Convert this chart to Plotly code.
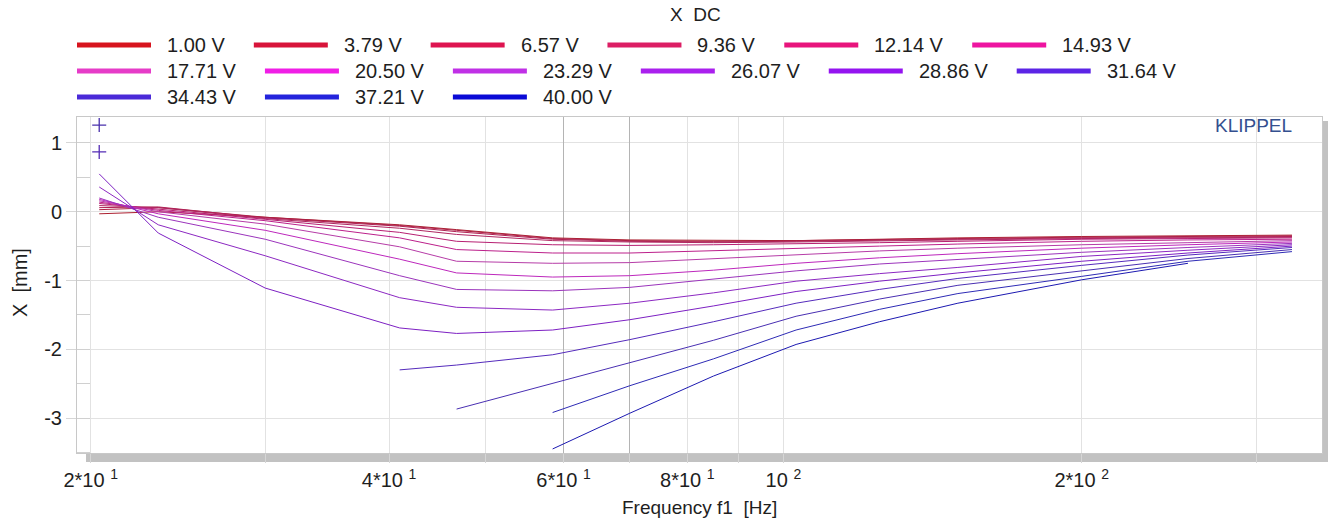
import plotly.graph_objects as go

# ---------------------------------------------------------------- data
freq_hz = [20.4, 23.4, 30.0, 41.0, 46.8, 58.5, 70, 85, 103, 125, 150, 200, 256, 326]

voltage_labels = ["1.00 V", "3.79 V", "6.57 V", "9.36 V", "12.14 V", "14.93 V",
                  "17.71 V", "20.50 V", "23.29 V", "26.07 V", "28.86 V", "31.64 V",
                  "34.43 V", "37.21 V", "40.00 V"]

x_dc_1_00 = [-0.03, 0.00, -0.08, -0.19, -0.26, -0.38, -0.41, -0.42, -0.42, -0.40, -0.38, -0.36, -0.35, -0.34]
x_dc_3_79 = [0.03, 0.06, -0.08, -0.20, -0.27, -0.39, -0.42, -0.43, -0.42, -0.41, -0.39, -0.37, -0.36, -0.35]
x_dc_6_57 = [0.06, 0.07, -0.09, -0.21, -0.29, -0.40, -0.43, -0.44, -0.43, -0.42, -0.40, -0.38, -0.37, -0.36]
x_dc_9_36 = [0.09, 0.06, -0.10, -0.24, -0.33, -0.42, -0.44, -0.45, -0.44, -0.43, -0.41, -0.39, -0.38, -0.37]
x_dc_12_14 = [0.12, 0.04, -0.11, -0.30, -0.43, -0.48, -0.49, -0.48, -0.47, -0.45, -0.43, -0.40, -0.39, -0.38]
x_dc_14_93 = [0.14, 0.02, -0.13, -0.38, -0.55, -0.60, -0.60, -0.57, -0.53, -0.50, -0.47, -0.43, -0.41, -0.40]
x_dc_17_71 = [0.16, 0.00, -0.18, -0.51, -0.72, -0.75, -0.74, -0.68, -0.62, -0.57, -0.53, -0.48, -0.45, -0.42]
x_dc_20_50 = [0.18, -0.03, -0.27, -0.69, -0.89, -0.95, -0.93, -0.85, -0.75, -0.67, -0.61, -0.53, -0.48, -0.44]
x_dc_23_29 = [0.20, -0.08, -0.40, -0.93, -1.13, -1.15, -1.10, -0.98, -0.86, -0.76, -0.69, -0.59, -0.52, -0.46]
x_dc_26_07 = [0.36, -0.19, -0.64, -1.25, -1.39, -1.43, -1.33, -1.18, -1.01, -0.90, -0.81, -0.65, -0.56, -0.48]
x_dc_28_86 = [0.55, -0.31, -1.11, -1.69, -1.77, -1.72, -1.57, -1.37, -1.16, -1.01, -0.89, -0.72, -0.60, -0.50]
x_dc_31_64 = [0.87, None, None, -2.30, -2.23, -2.08, -1.86, -1.60, -1.33, -1.13, -0.97, -0.78, -0.63, -0.52]
x_dc_34_43 = [1.26, None, None, None, -2.87, -2.50, -2.20, -1.87, -1.52, -1.27, -1.07, -0.86, -0.68, -0.55]
x_dc_37_21 = [None, None, None, None, None, -2.92, -2.53, -2.14, -1.72, -1.42, -1.19, -0.94, -0.72, -0.58]
x_dc_40_00 = [None, None, None, None, None, -3.45, -2.93, -2.39, -1.93, -1.60, -1.33, -0.99, -0.75, None]

x_label_vals = [20, 40, 60, 80, 100, 200]
x_label_text = ["2*10 <sup>1</sup>", "4*10 <sup>1</sup>", "6*10 <sup>1</sup>",
                "8*10 <sup>1</sup>", "10 <sup>2</sup>", "2*10 <sup>2</sup>"]
x_minor_vals = [30, 50, 70, 90, 300]
y_tick_vals = [1, 0, -1, -2, -3]
y_tick_text = ["1", "0", "-1", "-2", "-3"]

series = [x_dc_1_00, x_dc_3_79, x_dc_6_57, x_dc_9_36, x_dc_12_14, x_dc_14_93,
          x_dc_17_71, x_dc_20_50, x_dc_23_29, x_dc_26_07, x_dc_28_86, x_dc_31_64,
          x_dc_34_43, x_dc_37_21, x_dc_40_00]

# ---------------------------------------------------------------- style
colors = ["#d7141e", "#d8143a", "#de1450", "#dc1e64", "#e8147c", "#ee14a0",
          "#e63cc8", "#f01ee6", "#c030e6", "#aa20ee", "#9414f0", "#5c24e6",
          "#4a2ad8", "#2424dc", "#0a0ad6"]

W, H = 1328, 521
ML, MR, MT, MB = 77, 6, 117, 68
PW, PH = W - ML - MR, H - MT - MB
FONT = "Liberation Sans, Arial, sans-serif"
TXT = "#1e1e1e"
GRID = "#e2e2e2"


def px(xp):
    return (xp - ML) / PW


def py(yp):
    return (H - MB - yp) / PH


def muted(hex_col, amount=0.3, toward=(70, 60, 90)):
    """Thin curve strokes are drawn a little darker than the legend swatches."""
    r, g, b = (int(hex_col[i:i + 2], 16) for i in (1, 3, 5))
    r, g, b = (round(c * (1 - amount) + t * amount) for c, t in zip((r, g, b), toward))
    return f"rgb({r},{g},{b})"


fig = go.Figure()

for name, col, ys in zip(voltage_labels, colors, series):
    fig.add_trace(go.Scatter(x=freq_hz, y=ys, mode="lines", name=name,
                             line=dict(color=muted(col), width=1), connectgaps=False,
                             showlegend=False))
    # isolated samples are shown as crosses
    lone_x, lone_y = [], []
    for i, v in enumerate(ys):
        if v is None:
            continue
        left = ys[i - 1] if i > 0 else None
        right = ys[i + 1] if i < len(ys) - 1 else None
        if left is None and right is None:
            lone_x.append(freq_hz[i])
            lone_y.append(v)
    if lone_x:
        fig.add_trace(go.Scatter(x=lone_x, y=lone_y, mode="markers", showlegend=False,
                                 marker=dict(symbol="cross-thin", size=10,
                                             line=dict(color=muted(col, 0.35), width=1.3))))

# emphasised grid lines at 60 and 70 Hz
fig.add_trace(go.Scatter(x=[60, 70], y=[None, None], xaxis="x2", showlegend=False))

shapes = []
annotations = []

# legend, six entries per row
row_y = [45, 71, 97]
swatch_len, text_gap, entry_gap = 74, 14, 31
char_w = {"0": .556, "1": .556, "2": .556, "3": .556, "4": .556, "5": .556, "6": .556,
          "7": .556, "8": .556, "9": .556, ".": .278, " ": .278, "V": .667}
leg_fs = 20
for k, (name, col) in enumerate(zip(voltage_labels, colors)):
    r, c = divmod(k, 6)
    if c == 0:
        cx = 77
    yy = row_y[r]
    shapes.append(dict(type="line", xref="paper", yref="paper",
                       x0=px(cx), x1=px(cx + swatch_len), y0=py(yy), y1=py(yy),
                       line=dict(color=col, width=5)))
    tx = cx + swatch_len + text_gap
    annotations.append(dict(x=px(tx), y=py(yy), xref="paper", yref="paper",
                            text=name, showarrow=False, xanchor="left", yanchor="middle",
                            font=dict(family=FONT, size=leg_fs, color=TXT)))
    tw = sum(char_w.get(ch, .556) for ch in name) * leg_fs
    cx = tx + tw + entry_gap

# frame shadow
shapes.append(dict(type="rect", xref="paper", yref="paper", layer="below",
                   x0=px(1322), x1=px(1328), y0=py(462), y1=py(121),
                   fillcolor="#c2c2c2", line=dict(width=0)))
shapes.append(dict(type="rect", xref="paper", yref="paper", layer="below",
                   x0=px(86), x1=px(1328), y0=py(462), y1=py(454),
                   fillcolor="#c2c2c2", line=dict(width=0)))

annotations += [
    dict(x=px(695), y=py(15), xref="paper", yref="paper", text="X  DC", showarrow=False,
         xanchor="center", yanchor="middle", font=dict(family=FONT, size=19, color=TXT)),
    dict(x=px(699), y=py(507), xref="paper", yref="paper", text="Frequency f1  [Hz]",
         showarrow=False, xanchor="center", yanchor="middle",
         font=dict(family=FONT, size=19, color=TXT)),
    dict(x=px(20), y=py(283), xref="paper", yref="paper", text="X  [mm]", showarrow=False,
         textangle=-90, xanchor="center", yanchor="middle",
         font=dict(family=FONT, size=20, color=TXT)),
    dict(x=px(1294), y=py(125), xref="paper", yref="paper", text="KLIPPEL", showarrow=False,
         xanchor="right", yanchor="middle", font=dict(family=FONT, size=19, color="#34508f")),
]

x_range = [1.28721, 2.54351]

fig.update_layout(
    width=W, height=H,
    margin=dict(l=ML, r=MR, t=MT, b=MB, pad=0),
    paper_bgcolor="white", plot_bgcolor="white",
    showlegend=False,
    font=dict(family=FONT, size=20, color=TXT),
    shapes=shapes, annotations=annotations,
    xaxis=dict(type="log", range=x_range, tickmode="array", tickvals=x_label_vals,
               ticktext=x_label_text, showgrid=True, gridcolor=GRID, gridwidth=1,
               ticks="outside", ticklen=9, tickcolor="#d6d6d6",
               minor=dict(tickmode="array", tickvals=x_minor_vals, showgrid=True,
                          gridcolor=GRID, gridwidth=1, ticks="outside", ticklen=9,
                          tickcolor="#d6d6d6"),
               showline=True, mirror=True, linecolor="#c8c8c8", linewidth=1,
               zeroline=False, tickfont=dict(family=FONT, size=20, color=TXT)),
    xaxis2=dict(type="log", range=x_range, overlaying="x", matches="x",
                tickmode="array", tickvals=[60, 70], showticklabels=False,
                showgrid=True, gridcolor="#b4b4b4", gridwidth=1, ticks="", zeroline=False),
    yaxis=dict(range=[-3.509, 1.378], tickmode="array", tickvals=y_tick_vals,
               ticktext=y_tick_text, showgrid=True, gridcolor=GRID, gridwidth=1,
               ticks="outside", ticklen=10, tickcolor="#d6d6d6",
               minor=dict(dtick=0.5, ticks="inside", ticklen=13, tickcolor="#d0d0d0",
                          showgrid=False),
               showline=True, mirror=True, linecolor="#c8c8c8", linewidth=1,
               zeroline=False, tickfont=dict(family=FONT, size=20, color=TXT)),
)

fig.write_html("out.html")
